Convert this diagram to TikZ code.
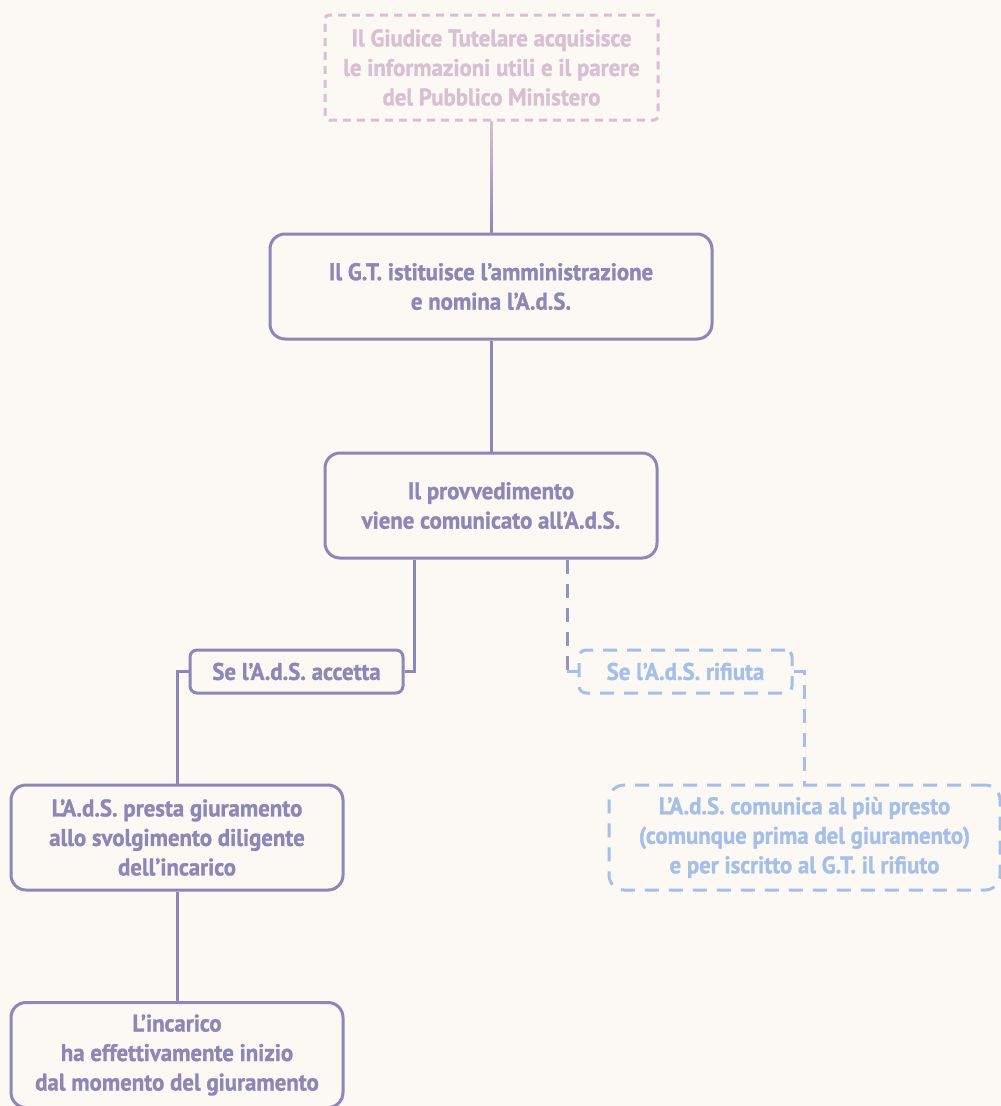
\documentclass[tikz,border=0pt]{standalone}
\usepackage{fontspec}
\newfontfamily\boxfont{PT Sans Bold}[FakeStretch=0.95,FakeBold=1.2]
\usetikzlibrary{calc}
\definecolor{bg}{HTML}{FCF9F4}
\definecolor{purp}{HTML}{8C87B6}
\definecolor{pinkc}{HTML}{D8BFD2}
\definecolor{bluec}{HTML}{A5BFE8}
\tikzset{
  base/.style={rectangle, rounded corners=15pt, line width=3pt, align=center, inner sep=0pt,
     font=\boxfont\fontsize{24}{29.5}\selectfont},
  solidbox/.style={base, draw=purp, text=purp},
  pinkbox/.style={base, draw=pinkc, text=pinkc, dash pattern=on 8pt off 6pt, rounded corners=4pt},
  bluebox/.style={base, draw=bluec, text=bluec, dash pattern=on 14pt off 10pt},
  smallbox/.style={rounded corners=7pt},
  conn/.style={draw=purp, line width=3pt},
  pdash/.style={draw=purp!75!bluec, line width=3pt, dash pattern=on 14pt off 10pt},
  bdash/.style={draw=bluec, line width=3pt, dash pattern=on 14pt off 10pt},
}
\begin{document}
\begin{tikzpicture}[x=1pt,y=-1pt]
\useasboundingbox[fill=bg] (0,0) rectangle (1001,1106);
\node[pinkbox, minimum width=333pt, minimum height=105pt] (t) at (491.5,67.5)
  {Il Giudice Tutelare acquisisce\\le informazioni utili e il parere\\del Pubblico Ministero};
\node[solidbox, minimum width=442pt, minimum height=105pt] (b2) at (491,286.5)
  {Il G.T. istituisce l’amministrazione\\e nomina l’A.d.S.};
\node[solidbox, minimum width=332pt, minimum height=105pt] (b3) at (491,505.5)
  {Il provvedimento\\viene comunicato all’A.d.S.};
\node[solidbox, smallbox, minimum width=213pt, minimum height=43pt] (acc) at (296.5,671.5)
  {Se l’A.d.S. accetta};
\node[bluebox, smallbox, minimum width=213pt, minimum height=43pt] (rif) at (685.5,671.5)
  {Se l’A.d.S. rifiuta};
\node[solidbox, minimum width=332pt, minimum height=105pt] (lb) at (177,837.5)
  {L’A.d.S. presta giuramento\\allo svolgimento diligente\\dell’incarico};
\node[bluebox, minimum width=391pt, minimum height=105pt] (rb) at (804.5,837.5)
  {L’A.d.S. comunica al più presto\\(comunque prima del giuramento)\\e per iscritto al G.T. il rifiuto};
\node[solidbox, minimum width=332pt, minimum height=105pt] (fb) at (177,1055)
  {L’incarico\\ha effettivamente inizio\\dal momento del giuramento};
\coordinate (c1) at (414,0);
\coordinate (c2) at (567,0);
% connectors
\shade[top color=pinkc, bottom color=purp] ($(t.south)+(-1.5,0)$) rectangle ($(b2.north)+(1.5,0)$);
\draw[conn] (b2.south) -- (b3.north);
\draw[conn] (b3.south -| c1) |- (acc.east);
\draw[conn] (acc.west) -| (lb.north);
\draw[conn] (lb.south) -- (fb.north);
\draw[pdash] (b3.south -| c2) -- (c2 |- rif.west);
\draw[bdash] (c2 |- rif.west) -- (rif.west);
\draw[bdash] (rif.east) -| (rb.north);
\end{tikzpicture}
\end{document}
